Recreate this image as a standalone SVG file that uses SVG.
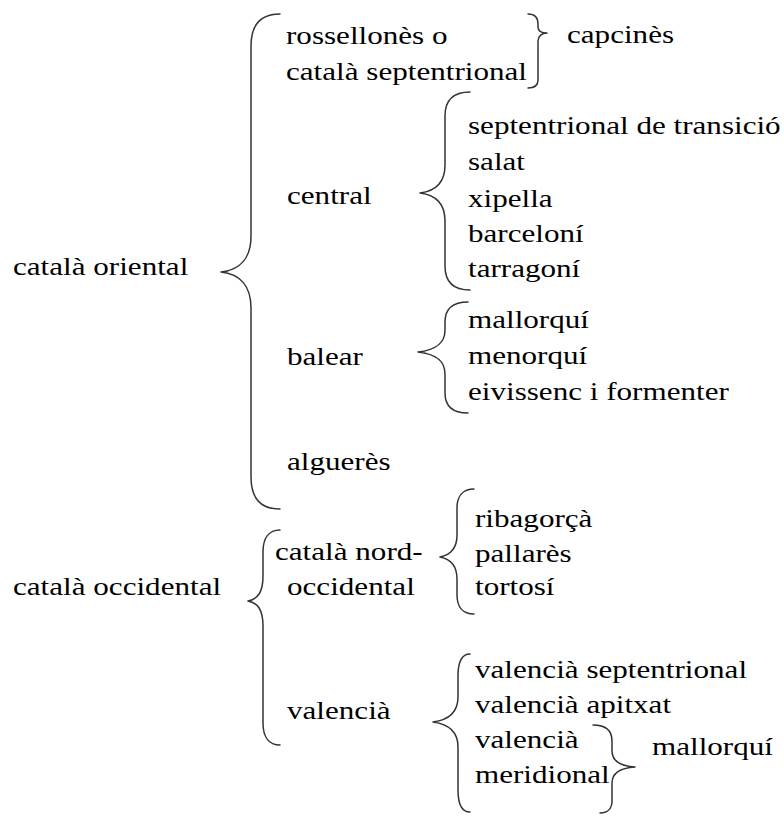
<svg xmlns="http://www.w3.org/2000/svg" width="784" height="819" viewBox="0 0 784 819">
  <style>
    text { font-family: "Liberation Serif", "Times New Roman", serif; font-size: 25.5px; fill: #000; }
    .brace { fill: none; stroke: #333; stroke-width: 1.5; stroke-linecap: round; stroke-linejoin: round; }
  </style>
  <rect width="784" height="819" fill="#fff"/>

  <!-- curly braces grouping each level of the dialect tree -->
  <g id="connectors">
    <path class="brace" d="M280,14 C262,14 251,24 251,46 L251,236 C251,258 240,270 221,272 C240,274 251,286 251,308 L251,477 C251,499 262,509 280,509"/>
    <path class="brace" d="M528,14 C535,14 538,18 538,24 L538,27 C538,31 542,33 547,33 C542,33 538,36 538,41 L538,80 C538,85 535,88 528,88"/>
    <path class="brace" d="M470,92 C454,92 445,100 445,116 L445,165 C445,183 436,191 420,193 C436,195 445,203 445,221 L445,266 C445,282 454,290 470,290"/>
    <path class="brace" d="M468,302 C453,302 445,309 445,322 L445,330 C445,344 435,350 418,352 C435,354 445,360 445,374 L445,393 C445,406 453,413 468,413"/>
    <path class="brace" d="M280,530 C269,530 263,538 263,552 L263,576 C263,592 258,599 248,601 C258,603 263,610 263,626 L263,723 C263,737 269,745 280,745"/>
    <path class="brace" d="M474,489 C463,489 457,496 457,508 L457,535 C457,549 450,555 440,557 C450,559 457,565 457,579 L457,595 C457,607 463,614 474,614"/>
    <path class="brace" d="M470,654 C462,654 458,662 458,676 L458,697 C458,713 448,720 433,722 C448,724 458,731 458,747 L458,790 C458,804 462,812 470,812"/>
    <path class="brace" d="M593,725 C606,725 612,731 612,741 L612,751 C612,761 620,766 635,767 C620,768 612,773 612,783 L612,801 C612,809 607,813 600,813"/>
  </g>

  <g id="catala-oriental"><text transform="translate(13,275) scale(1.22,1)">català oriental</text></g>
  <g id="rossellones"><text transform="translate(286,44) scale(1.22,1)">rossellonès o</text><text transform="translate(286,80) scale(1.22,1)">català septentrional</text></g>
  <g id="capcines"><text transform="translate(567,43) scale(1.22,1)">capcinès</text></g>
  <g id="central"><text transform="translate(287,204) scale(1.22,1)">central</text></g>
  <g id="septentrional-transicio"><text transform="translate(468,134) scale(1.22,1)">septentrional de transició</text></g>
  <g id="salat"><text transform="translate(468,170) scale(1.22,1)">salat</text></g>
  <g id="xipella"><text transform="translate(468,207) scale(1.22,1)">xipella</text></g>
  <g id="barceloni"><text transform="translate(468,242) scale(1.22,1)">barceloní</text></g>
  <g id="tarragoni"><text transform="translate(468,277) scale(1.22,1)">tarragoní</text></g>
  <g id="balear"><text transform="translate(287,365) scale(1.22,1)">balear</text></g>
  <g id="mallorqui"><text transform="translate(468,328) scale(1.22,1)">mallorquí</text></g>
  <g id="menorqui"><text transform="translate(468,364) scale(1.22,1)">menorquí</text></g>
  <g id="eivissenc"><text transform="translate(468,400) scale(1.22,1)">eivissenc i formenter</text></g>
  <g id="algueres"><text transform="translate(287,470) scale(1.22,1)">alguerès</text></g>

  <g id="catala-occidental"><text transform="translate(13,595) scale(1.22,1)">català occidental</text></g>
  <g id="nord-occidental"><text transform="translate(275,560) scale(1.22,1)">català nord-</text><text transform="translate(287,595) scale(1.22,1)">occidental</text></g>
  <g id="ribagorca"><text transform="translate(475,527) scale(1.22,1)">ribagorçà</text></g>
  <g id="pallares"><text transform="translate(475,562) scale(1.22,1)">pallarès</text></g>
  <g id="tortosi"><text transform="translate(475,595) scale(1.22,1)">tortosí</text></g>
  <g id="valencia"><text transform="translate(287,719) scale(1.22,1)">valencià</text></g>
  <g id="valencia-septentrional"><text transform="translate(475,678) scale(1.22,1)">valencià septentrional</text></g>
  <g id="valencia-apitxat"><text transform="translate(475,713) scale(1.22,1)">valencià apitxat</text></g>
  <g id="valencia-meridional"><text transform="translate(475,748) scale(1.22,1)">valencià</text><text transform="translate(475,783) scale(1.22,1)">meridional</text></g>
  <g id="mallorqui-2"><text transform="translate(652,755) scale(1.22,1)">mallorquí</text></g>
</svg>
